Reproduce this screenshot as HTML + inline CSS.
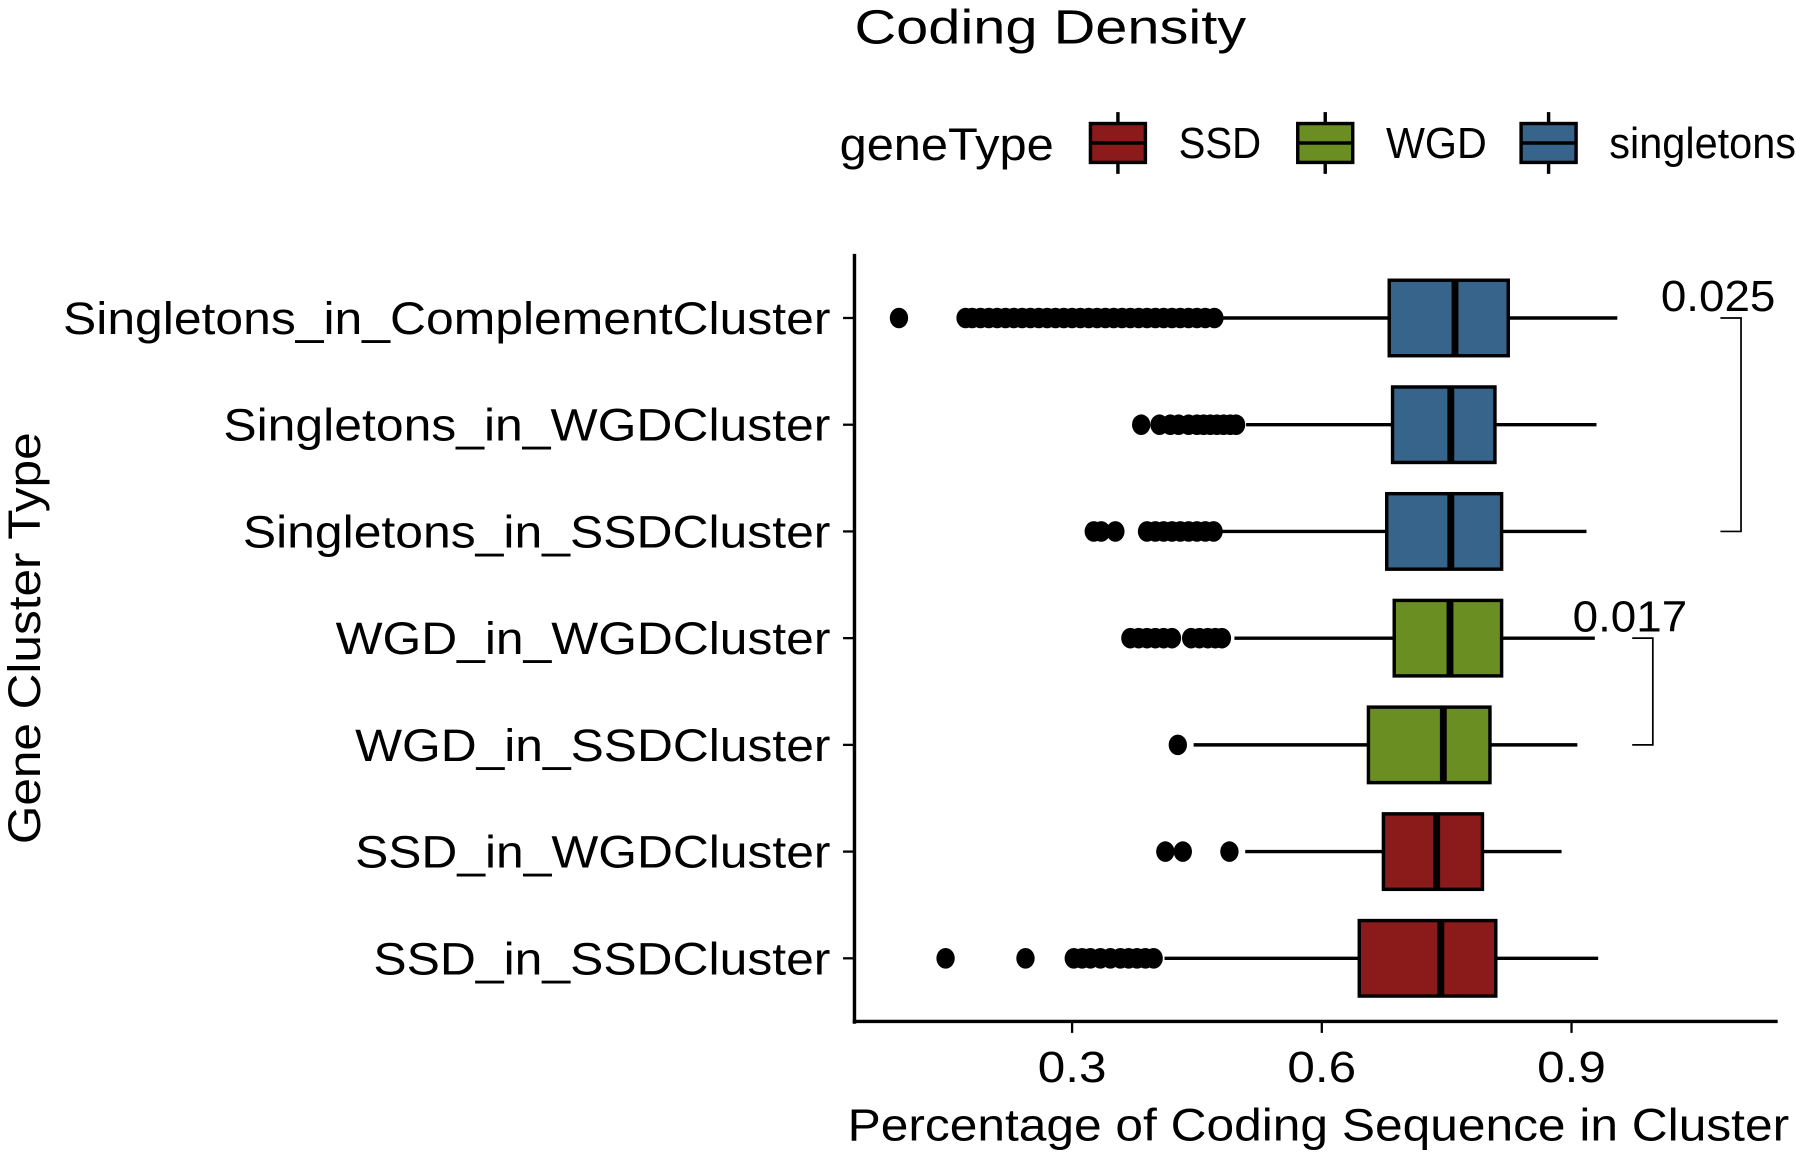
<!DOCTYPE html>
<html><head><meta charset="utf-8"><style>html,body{margin:0;padding:0;background:#fff}svg{display:block}text{font-family:"Liberation Sans",Arial,sans-serif;fill:#000}</style></head>
<body>
<svg id="chart" width="1796" height="1153" viewBox="0 0 1568 1008" preserveAspectRatio="none" xmlns="http://www.w3.org/2000/svg">
<text x="746" y="38" font-size="42" textLength="342" lengthAdjust="spacingAndGlyphs">Coding Density</text>
<g id="legend"></g>
<g id="plot"></g>
<text x="740" y="997" font-size="40" textLength="822" lengthAdjust="spacingAndGlyphs">Percentage of Coding Sequence in Cluster</text>
<text transform="translate(35,738) rotate(-90)" font-size="40" textLength="360" lengthAdjust="spacingAndGlyphs">Gene Cluster Type</text>
</svg>
<script>
const categories=["Singletons_in_ComplementCluster","Singletons_in_WGDCluster","Singletons_in_SSDCluster","WGD_in_WGDCluster","WGD_in_SSDCluster","SSD_in_WGDCluster","SSD_in_SSDCluster"];
const labelWidths=[670,530,513,432,415,415,399];
const groups=["singletons","singletons","singletons","WGD","WGD","SSD","SSD"];
const whiskerLow=[0.478,0.509,0.480,0.495,0.446,0.508,0.411];
const q1=[0.681,0.685,0.678,0.687,0.656,0.674,0.645];
const median=[0.760,0.755,0.755,0.754,0.746,0.738,0.743];
const q3=[0.824,0.808,0.816,0.816,0.802,0.793,0.809];
const whiskerHigh=[0.955,0.930,0.918,0.928,0.907,0.888,0.932];
const outliers=[
 [0.092,0.172,0.18,0.19,0.20,0.21,0.22,0.23,0.24,0.25,0.26,0.27,0.28,0.29,0.30,0.31,0.32,0.33,0.34,0.35,0.36,0.37,0.38,0.39,0.40,0.41,0.42,0.43,0.44,0.45,0.46,0.471],
 [0.383,0.405,0.418,0.428,0.440,0.450,0.458,0.466,0.474,0.482,0.490,0.497],
 [0.326,0.335,0.352,0.390,0.400,0.410,0.420,0.430,0.440,0.450,0.460,0.470],
 [0.370,0.380,0.390,0.400,0.410,0.420,0.443,0.453,0.463,0.472,0.480],
 [0.427],
 [0.412,0.433,0.489],
 [0.148,0.244,0.302,0.312,0.322,0.334,0.346,0.358,0.368,0.378,0.388,0.398]
];
const xTicks=[0.3,0.6,0.9];
const colors={SSD:"#8b1a1a",WGD:"#6b8e23",singletons:"#36648b"};
const legendKeys=["SSD","WGD","singletons"];
const legendWidths=[72,88,163];
const brackets=[{from:0,to:2,label:"0.025",x:1520},{from:3,to:4,label:"0.017",x:1443}];
const NS="http://www.w3.org/2000/svg";
const x=v=>936+(v-0.3)*726.7;
const y=i=>278+i*93.3;
function mk(tag,attrs,parent){const e=document.createElementNS(NS,tag);for(const k in attrs)e.setAttribute(k,attrs[k]);parent.appendChild(e);return e;}
const plot=document.getElementById("plot");
const ya=mk("line",{x1:746,y1:222,x2:746,y2:895,stroke:"#000","stroke-width":3},plot);


const xa=mk("line",{x1:744.5,y1:893,x2:1552,y2:893,stroke:"#000","stroke-width":3},plot);


xTicks.forEach(t=>{
 mk("line",{x1:x(t),y1:893,x2:x(t),y2:903,stroke:"#000","stroke-width":2},plot);
 const tl=mk("text",{x:x(t)-30,y:946,"font-size":38,textLength:60,lengthAdjust:"spacingAndGlyphs"},plot);
 tl.textContent=t.toFixed(1);
 
 
});
categories.forEach((c,i)=>{
 const cy=y(i);
 mk("line",{x1:736,y1:cy,x2:746,y2:cy,stroke:"#000","stroke-width":2},plot);
 const lb=mk("text",{x:725-labelWidths[i],y:cy+14,"font-size":40,textLength:labelWidths[i],lengthAdjust:"spacingAndGlyphs"},plot);
 lb.textContent=c;
 
 
 const g=mk("g",{},plot);
 
 
 mk("line",{x1:x(whiskerLow[i]),y1:cy,x2:x(q1[i]),y2:cy,stroke:"#000","stroke-width":3},g);
 mk("line",{x1:x(q3[i]),y1:cy,x2:x(whiskerHigh[i]),y2:cy,stroke:"#000","stroke-width":3},g);
 mk("rect",{x:x(q1[i]),y:cy-33,width:x(q3[i])-x(q1[i]),height:66,fill:colors[groups[i]],stroke:"#000","stroke-width":3},g);
 mk("line",{x1:x(median[i]),y1:cy-33,x2:x(median[i]),y2:cy+33,stroke:"#000","stroke-width":6},g);
 outliers[i].forEach(v=>{
  const p=mk("ellipse",{cx:x(v),cy:cy,rx:8,ry:9,fill:"#000"},g);
  
  
 });
});
brackets.forEach(b=>{
 const g=mk("g",{},plot);
 
 
 mk("polyline",{points:`${b.x-18},${y(b.from)} ${b.x},${y(b.from)} ${b.x},${y(b.to)} ${b.x-18},${y(b.to)}`,fill:"none",stroke:"#000","stroke-width":1.5},g);
 const t=mk("text",{x:b.x-70,y:y(b.from)-6,"font-size":38,textLength:100,lengthAdjust:"spacingAndGlyphs"},g);
 t.textContent=b.label;
});
const lg=document.getElementById("legend");
const lt=mk("text",{x:733,y:140,"font-size":40,textLength:187,lengthAdjust:"spacingAndGlyphs"},lg);lt.textContent="geneType";


const kx=[952,1133,1328];
legendKeys.forEach((k,j)=>{
 const g=mk("g",{},lg);
 
 
 const x0=kx[j];
 mk("line",{x1:x0+24,y1:98,x2:x0+24,y2:152,stroke:"#000","stroke-width":3},g);
 mk("rect",{x:x0,y:108,width:48,height:34,fill:colors[k],stroke:"#000","stroke-width":3},g);
 mk("line",{x1:x0,y1:125,x2:x0+48,y2:125,stroke:"#000","stroke-width":3},g);
 const t=mk("text",{x:x0+77,y:138,"font-size":38,textLength:legendWidths[j],lengthAdjust:"spacingAndGlyphs"},g);t.textContent=k;
});
</script>
</body></html>
